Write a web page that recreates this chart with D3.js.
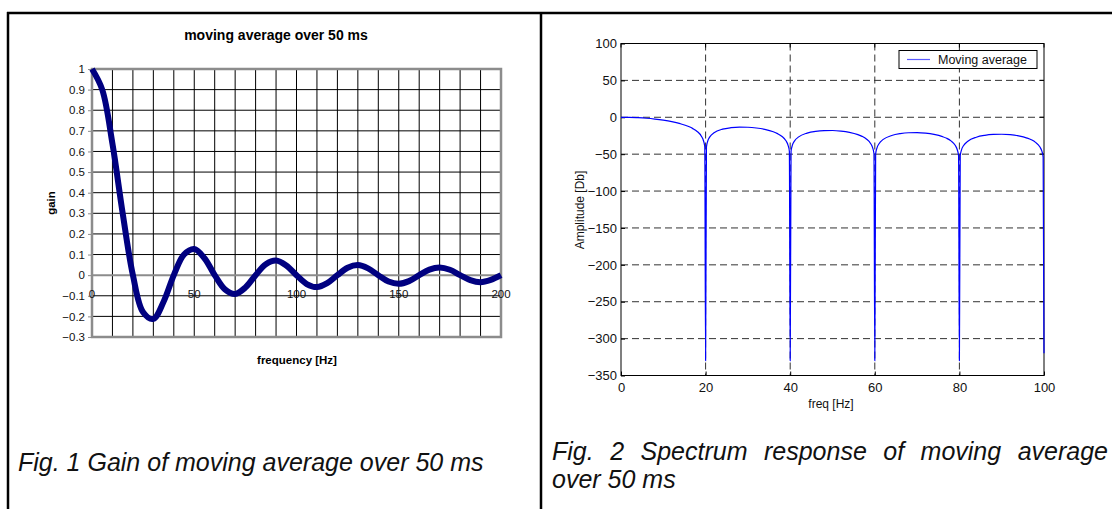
<!DOCTYPE html>
<html>
<head>
<meta charset="utf-8">
<script src="https://cdn.jsdelivr.net/npm/d3@7"></script>
<style>
  body { margin: 0; background: white; }
  svg { display: block; font-family: Arial, "Liberation Sans", sans-serif; }
</style>
</head>
<body>
<div id="d3-container"></div>
<script>
// Fig. 1 - gain of the moving average (every 5 Hz)
let gainFreq = [0, 5, 10, 15, 20, 25, 30, 35, 40, 45, 50, 55, 60, 65, 70, 75, 80, 85, 90, 95, 100,
  105, 110, 115, 120, 125, 130, 135, 140, 145, 150, 155, 160, 165, 170, 175, 180, 185, 190, 195, 200];
let gainValue = [1, 0.900, 0.637, 0.300, 0, -0.180, -0.212, -0.129, 0, 0.100, 0.127, 0.082, 0,
  -0.069, -0.091, -0.060, 0, 0.053, 0.071, 0.047, 0, -0.043, -0.058, -0.039, 0, 0.036, 0.049, 0.033, 0,
  -0.031, -0.042, -0.029, 0, 0.027, 0.037, 0.026, 0, -0.024, -0.034, -0.023, 0];
let gainYTicks = [1, 0.9, 0.8, 0.7, 0.6, 0.5, 0.4, 0.3, 0.2, 0.1, 0, -0.1, -0.2, -0.3];
let gainXTicks = [0, 50, 100, 150, 200];

// Fig. 2 - spectrum in dB
let specFreq = [0, 2, 4, 6, 8, 10, 12, 14, 16, 17, 18, 19, 19.5, 19.8, 20,
  20.2, 20.5, 21, 22, 24, 26, 28, 30, 32, 34, 36, 37, 38, 39, 39.5, 39.8, 40,
  40.2, 40.5, 41, 42, 44, 46, 48, 50, 52, 54, 56, 57, 58, 59, 59.5, 59.8, 60,
  60.2, 60.5, 61, 62, 64, 66, 68, 70, 72, 74, 76, 77, 78, 79, 79.5, 79.8, 80,
  80.2, 80.5, 81, 82, 84, 86, 88, 90, 92, 94, 96, 97, 98, 99, 99.5, 99.8, 100];
let specDb = [0, -0.1, -0.6, -1.3, -2.4, -3.9, -5.9, -8.7, -12.6, -15.4, -19.2, -25.6, -31.8, -39.9, -330,
  -40.1, -32.3, -26.5, -21.0, -16.1, -14.1, -13.3, -13.5, -14.5, -16.4, -19.7, -22.2, -25.7, -31.9, -38.0, -46.0, -330,
  -46.1, -38.2, -32.3, -26.6, -21.4, -19.0, -18.0, -17.9, -18.7, -20.4, -23.5, -25.9, -29.4, -35.5, -41.5, -49.5, -330,
  -49.6, -41.7, -35.8, -30.0, -24.7, -22.2, -21.0, -20.8, -21.5, -23.2, -26.2, -28.5, -32.0, -38.0, -44.0, -52.0, -330,
  -52.1, -44.1, -38.2, -32.4, -27.0, -24.5, -23.3, -23.0, -23.6, -25.2, -28.2, -30.5, -34.0, -40.0, -46.0, -54.0, -320];
let specYTicks = [100, 50, 0, -50, -100, -150, -200, -250, -300, -350];
let specXTicks = [0, 20, 40, 60, 80, 100];

let W = 1112, H = 509;
let FONT = 'Arial, "Liberation Sans", sans-serif';

let svg = d3.select('#d3-container')
  .append('svg')
  .attr('width', W)
  .attr('height', H);

// table frame around the two figures
svg.append('line').attr('x1', 7).attr('x2', W).attr('y1', 13).attr('y2', 13)
  .attr('stroke', 'black').attr('stroke-width', 2.5);
svg.append('line').attr('x1', 8).attr('x2', 8).attr('y1', 12).attr('y2', H)
  .attr('stroke', 'black').attr('stroke-width', 2.5);
svg.append('line').attr('x1', 541).attr('x2', 541).attr('y1', 12).attr('y2', H)
  .attr('stroke', 'black').attr('stroke-width', 2.5);

// ---------- left chart (Excel style) ----------
let x1 = d3.scaleLinear().domain([0, 200]).range([92, 501]);
let y1 = d3.scaleLinear().domain([-0.3, 1]).range([337, 69]);

let g1 = svg.append('g');

// grid every 10 Hz and every 0.1
g1.selectAll('.vgrid')
  .data(d3.range(10, 200, 10))
  .enter().append('line')
  .attr('x1', d => x1(d)).attr('x2', d => x1(d))
  .attr('y1', y1(1)).attr('y2', y1(-0.3))
  .attr('stroke', 'black').attr('stroke-width', 1);
g1.selectAll('.hgrid')
  .data(gainYTicks.filter(d => d !== 0 && d !== 1 && d !== -0.3))
  .enter().append('line')
  .attr('x1', x1(0)).attr('x2', x1(200))
  .attr('y1', d => y1(d)).attr('y2', d => y1(d))
  .attr('stroke', 'black').attr('stroke-width', 1);

// grey plot border and zero line
g1.append('rect')
  .attr('x', x1(0)).attr('y', y1(1))
  .attr('width', x1(200) - x1(0)).attr('height', y1(-0.3) - y1(1))
  .attr('fill', 'none').attr('stroke', '#8c8c8c').attr('stroke-width', 2.5);
g1.append('line')
  .attr('x1', x1(0)).attr('x2', x1(200))
  .attr('y1', y1(0)).attr('y2', y1(0))
  .attr('stroke', '#8c8c8c').attr('stroke-width', 2);

// y axis
let yAxis1 = d3.axisLeft(y1).tickValues(gainYTicks).tickSize(4).tickPadding(3)
  .tickFormat(d3.format('~g'));
let ya1 = g1.append('g').attr('transform', 'translate(' + x1(0) + ',0)').call(yAxis1);
ya1.select('.domain').remove();
ya1.selectAll('line').attr('stroke', '#8c8c8c');
ya1.selectAll('text').attr('font-size', 11.5).attr('fill', '#111').attr('font-family', FONT);

// x tick labels sit just under the zero line
g1.selectAll('.xlab')
  .data(gainXTicks)
  .enter().append('text')
  .attr('x', d => x1(d))
  .attr('y', y1(0) + 23)
  .attr('text-anchor', 'middle')
  .attr('font-size', 11.5)
  .attr('fill', '#111')
  .text(d => d);

// gain curve
let gainData = gainFreq.map((f, i) => ({ f: f, v: gainValue[i] }));
g1.append('path')
  .datum(gainData)
  .attr('fill', 'none')
  .attr('stroke', '#000080')
  .attr('stroke-width', 6)
  .attr('stroke-linejoin', 'round')
  .attr('d', d3.line().x(d => x1(d.f)).y(d => y1(d.v)).curve(d3.curveCatmullRom));

g1.append('text').attr('x', 276).attr('y', 40).attr('text-anchor', 'middle')
  .attr('font-size', 14).attr('font-weight', 'bold').text('moving average over 50 ms');
g1.append('text').attr('x', 297).attr('y', 364).attr('text-anchor', 'middle')
  .attr('font-size', 11.5).attr('font-weight', 'bold').text('frequency [Hz]');
g1.append('text').attr('transform', 'translate(55,203) rotate(-90)').attr('text-anchor', 'middle')
  .attr('font-size', 11.5).attr('font-weight', 'bold').text('gain');

// ---------- right chart (Matlab style) ----------
let x2 = d3.scaleLinear().domain([0, 100]).range([621, 1044]);
let y2 = d3.scaleLinear().domain([-350, 100]).range([375.5, 43.5]);

let g2 = svg.append('g');

// dashed grid
g2.selectAll('.vgrid')
  .data(specXTicks.slice(1, -1))
  .enter().append('line')
  .attr('x1', d => x2(d)).attr('x2', d => x2(d))
  .attr('y1', y2(100)).attr('y2', y2(-350))
  .attr('stroke', '#333').attr('stroke-width', 1).attr('stroke-dasharray', '7,4');
g2.selectAll('.hgrid')
  .data(specYTicks.slice(1, -1))
  .enter().append('line')
  .attr('x1', x2(0)).attr('x2', x2(100))
  .attr('y1', d => y2(d)).attr('y2', d => y2(d))
  .attr('stroke', '#333').attr('stroke-width', 1).attr('stroke-dasharray', '7,4');

// axes with inward ticks
let xa2 = g2.append('g').attr('transform', 'translate(0,' + y2(-350) + ')')
  .call(d3.axisBottom(x2).tickValues(specXTicks).tickSizeInner(-4).tickSizeOuter(0).tickPadding(7));
let ya2 = g2.append('g').attr('transform', 'translate(' + x2(0) + ',0)')
  .call(d3.axisLeft(y2).tickValues(specYTicks).tickSizeInner(-4).tickSizeOuter(0).tickPadding(4));
[xa2, ya2].forEach(a => {
  a.select('.domain').remove();
  a.selectAll('line').attr('stroke', 'black');
  a.selectAll('text').attr('font-size', 13).attr('fill', '#111').attr('font-family', FONT);
});
// top and right ticks
g2.selectAll('.tt').data(specXTicks).enter().append('line')
  .attr('x1', d => x2(d)).attr('x2', d => x2(d))
  .attr('y1', y2(100)).attr('y2', y2(100) + 4).attr('stroke', 'black');
g2.selectAll('.rt').data(specYTicks).enter().append('line')
  .attr('x1', x2(100)).attr('x2', x2(100) - 4)
  .attr('y1', d => y2(d)).attr('y2', d => y2(d)).attr('stroke', 'black');

g2.append('rect')
  .attr('x', x2(0)).attr('y', y2(100))
  .attr('width', x2(100) - x2(0)).attr('height', y2(-350) - y2(100))
  .attr('fill', 'none').attr('stroke', 'black').attr('stroke-width', 1);

// spectrum curve
let specData = specFreq.map((f, i) => ({ f: f, v: specDb[i] }));
g2.append('path')
  .datum(specData)
  .attr('fill', 'none')
  .attr('stroke', '#0000ff')
  .attr('stroke-width', 1.2)
  .attr('d', d3.line().x(d => x2(d.f)).y(d => y2(d.v)).curve(d3.curveMonotoneX));

// legend
g2.append('rect').attr('x', 899).attr('y', 50.5).attr('width', 138).attr('height', 18)
  .attr('fill', 'white').attr('stroke', 'black').attr('stroke-width', 1);
g2.append('line').attr('x1', 907).attr('x2', 930).attr('y1', 59.5).attr('y2', 59.5)
  .attr('stroke', '#5a5aff').attr('stroke-width', 1.2);
g2.append('text').attr('x', 938).attr('y', 64).attr('font-size', 12.5).attr('fill', '#111')
  .text('Moving average');

g2.append('text').attr('x', 831).attr('y', 408).attr('text-anchor', 'middle')
  .attr('font-size', 12).attr('fill', '#111').text('freq [Hz]');
g2.append('text').attr('transform', 'translate(584,210) rotate(-90)').attr('text-anchor', 'middle')
  .attr('font-size', 12).attr('fill', '#111').text('Amplitude [Db]');

// ---------- captions ----------
svg.append('text').attr('x', 18).attr('y', 471)
  .attr('font-size', 25).attr('font-style', 'italic').attr('fill', '#111')
  .text('Fig. 1 Gain of moving average over 50 ms');

// justified first line of the second caption
let words = ['Fig.', '2', 'Spectrum', 'response', 'of', 'moving', 'average'];
let capLeft = 552, capRight = 1108;
let wt = svg.selectAll('.capword')
  .data(words)
  .enter().append('text')
  .attr('class', 'capword')
  .attr('y', 460)
  .attr('font-size', 25).attr('font-style', 'italic').attr('fill', '#111')
  .text(d => d);
let widths = wt.nodes().map(n => n.getComputedTextLength());
let gap = (capRight - capLeft - d3.sum(widths)) / (words.length - 1);
let cx = capLeft;
wt.attr('x', (d, i) => { let p = cx; cx += widths[i] + gap; return p; });

svg.append('text').attr('x', capLeft).attr('y', 488)
  .attr('font-size', 25).attr('font-style', 'italic').attr('fill', '#111')
  .text('over 50 ms');
</script>
</body>
</html>
